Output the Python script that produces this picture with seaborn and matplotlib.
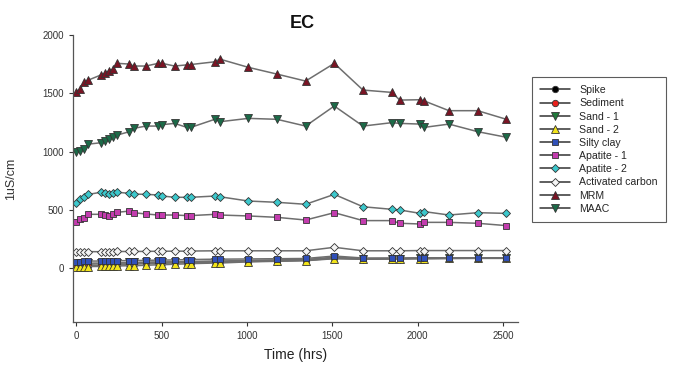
import matplotlib
matplotlib.use("Agg")
import matplotlib.pyplot as plt
import seaborn as sns
import pandas as pd

sns.set_style("ticks")
plt.rcParams['font.family'] = ['Liberation Sans', 'DejaVu Sans']

time_hrs = [0, 24, 48, 72, 144, 168, 192, 216, 240, 312, 336, 408, 480, 504, 576, 648, 672,
            816, 840, 1008, 1176, 1344, 1512, 1680, 1848, 1896, 2016, 2040, 2184, 2352, 2520]

spike = [15, 18, 20, 22, 25, 27, 28, 30, 30, 35, 36, 40, 42, 43, 45, 48, 48, 52, 53, 58, 63, 68,
         90, 78, 82, 82, 85, 85, 86, 87, 88]
sediment = [30, 32, 33, 35, 38, 40, 40, 42, 43, 45, 46, 50, 52, 52, 55, 58, 58, 62, 62, 68, 72, 75,
            95, 82, 85, 85, 88, 88, 88, 90, 90]
sand1 = [40, 42, 43, 44, 45, 46, 47, 48, 48, 50, 50, 52, 54, 54, 55, 56, 56, 58, 58, 62, 65, 68,
         85, 80, 82, 82, 84, 84, 85, 86, 86]
sand2 = [10, 12, 14, 15, 16, 17, 18, 18, 20, 22, 22, 26, 30, 30, 35, 38, 40, 45, 45, 55, 60, 65,
         82, 78, 80, 80, 82, 82, 84, 85, 85]
silty_clay = [55, 58, 60, 62, 62, 63, 63, 64, 65, 66, 66, 68, 70, 70, 72, 74, 75, 78, 78, 80, 82, 84,
              105, 88, 88, 88, 90, 90, 90, 90, 90]
apatite1 = [400, 419, 428, 463, 463, 457, 452, 463, 480, 491, 477, 466, 457, 457, 457, 452, 452,
            463, 457, 449, 437, 414, 477, 409, 409, 386, 380, 394, 394, 386, 366]
apatite2 = [557, 592, 614, 634, 652, 649, 634, 643, 652, 643, 637, 634, 629, 620, 609, 609, 609,
            620, 614, 577, 566, 549, 634, 528, 506, 500, 471, 486, 457, 477, 471]
activated_carbon = [140, 142, 142, 143, 142, 142, 143, 143, 144, 144, 144, 145, 146, 146, 147, 147, 148,
                    150, 150, 150, 150, 150, 180, 150, 150, 150, 152, 152, 152, 152, 152]
mrm = [1515, 1535, 1600, 1615, 1658, 1672, 1695, 1707, 1758, 1752, 1735, 1735, 1758, 1758, 1735,
       1745, 1748, 1772, 1795, 1724, 1666, 1606, 1758, 1529, 1509, 1443, 1446, 1435, 1352, 1352, 1278]
maac = [995, 1005, 1020, 1065, 1077, 1094, 1105, 1129, 1143, 1172, 1200, 1220, 1220, 1232, 1243,
        1209, 1209, 1280, 1257, 1286, 1278, 1220, 1392, 1220, 1249, 1243, 1237, 1209, 1237, 1172, 1124]

series_names = ["Spike", "Sediment", "Sand - 1", "Sand - 2", "Silty clay", "Apatite - 1",
                "Apatite - 2", "Activated carbon", "MRM", "MAAC"]
series_values = [spike, sediment, sand1, sand2, silty_clay, apatite1, apatite2,
                 activated_carbon, mrm, maac]

styles = {
    "Spike": ("o", "#000000"),
    "Sediment": ("o", "#e8201c"),
    "Sand - 1": ("v", "#1f7a3a"),
    "Sand - 2": ("^", "#f2e41a"),
    "Silty clay": ("s", "#3050b8"),
    "Apatite - 1": ("s", "#c33cae"),
    "Apatite - 2": ("D", "#3cc8cc"),
    "Activated carbon": ("D", "#f4f4f4"),
    "MRM": ("^", "#7a1424"),
    "MAAC": ("v", "#1c6a48"),
}

fig = plt.figure(figsize=(6.74, 3.70), dpi=100)
ax = fig.add_axes([0.108, 0.13, 0.661, 0.775])

for name, vals in zip(series_names, series_values):
    df = pd.DataFrame({"Time": time_hrs, "EC": vals})
    mk, fc = styles[name]
    ms = {"^": 5.2, "v": 5.2, "o": 4.6, "s": 4.4, "D": 4.2}[mk]
    sns.lineplot(data=df, x="Time", y="EC", ax=ax, color="#6e6e6e", linewidth=1.1,
                 marker=mk, markersize=ms, markerfacecolor=fc, markeredgecolor="#333333",
                 markeredgewidth=0.6, label=name, sort=False)

ax.set_xlim(-20, 2590)
ax.set_ylim(-460, 2000)
ax.set_xticks([0, 500, 1000, 1500, 2000, 2500])
ax.set_yticks([0, 500, 1000, 1500, 2000])
ax.tick_params(axis="both", labelsize=7, colors="#333333", length=3, width=0.8, direction="out")
for s in ["top", "right"]:
    ax.spines[s].set_visible(False)
for s in ["left", "bottom"]:
    ax.spines[s].set_color("#555555")
    ax.spines[s].set_linewidth(0.9)

ax.set_xlabel("Time (hrs)", fontsize=10, color="#222222", labelpad=5)
ax.set_ylabel("1uS/cm", fontsize=9, color="#333333", labelpad=18)
ax.set_title("EC", fontsize=13, fontweight="bold", pad=5, color="#111111", x=0.515)

leg = ax.legend(loc="upper left", bbox_to_anchor=(1.03, 0.855), fontsize=7.6, frameon=True,
                fancybox=False, edgecolor="#333333", handlelength=2.8, labelspacing=0.3,
                borderpad=0.8, handletextpad=0.9, borderaxespad=0)
leg.get_frame().set_linewidth(0.8)
for line in leg.get_lines():
    line.set_color("#333333")

fig.savefig("out.png", dpi=100)
